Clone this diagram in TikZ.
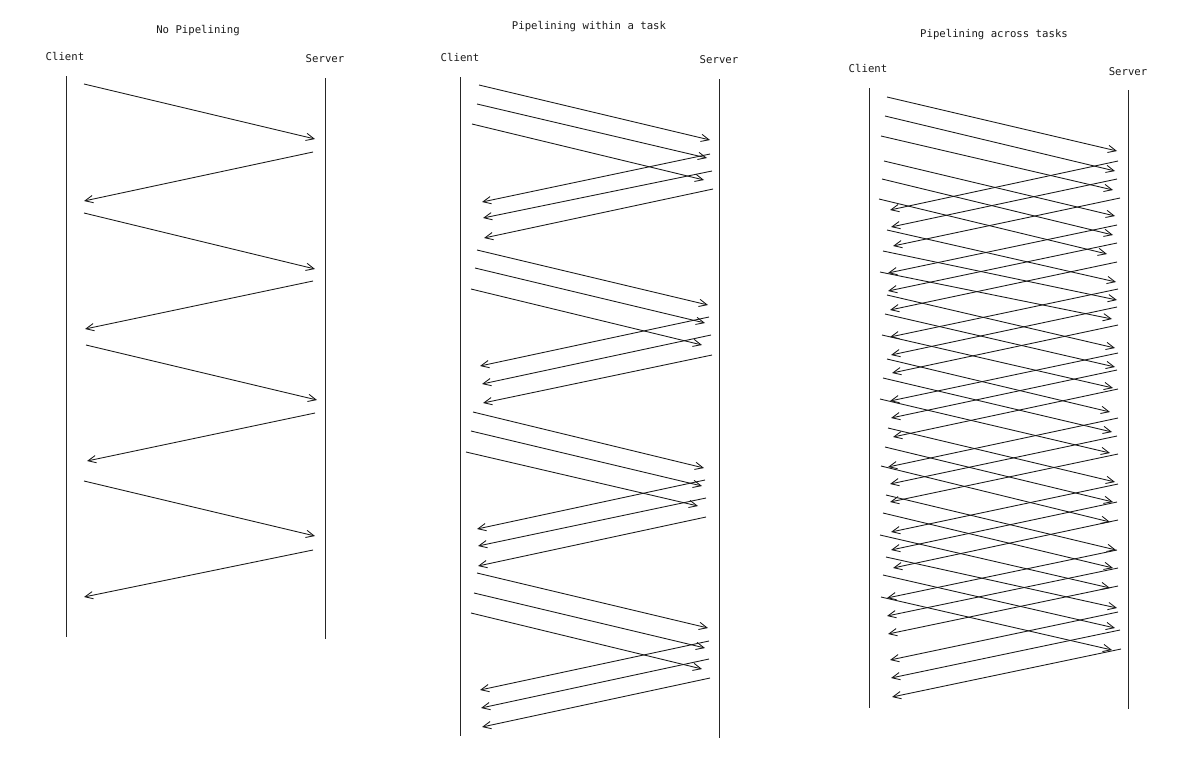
\documentclass[tikz,border=0pt]{standalone}
\usepackage{fontspec}
\setmonofont{DejaVu Sans Mono}
\usetikzlibrary{arrows.meta}
\tikzset{
  lbl/.style={font=\ttfamily\fontsize{8}{9}\selectfont, inner sep=0pt, text=black!90},
  lifeline/.style={line width=0.65pt, draw=black!85},
  msg/.style={line width=0.65pt, draw=black!90, -{Straight Barb[length=6pt,width=5.5pt]}},
}
\begin{document}
\begin{tikzpicture}[x=0.75pt,y=-0.75pt]
\useasboundingbox (0,0) rectangle (1191,758);
% ---------- Panel 1 ----------
\node[lbl] (t1) at (198,31) {No Pipelining};
\node[lbl] (c1) at (65,56) {Client};
\node[lbl] (s1) at (325,59) {Server};
\coordinate (c1a) at (66,76); \coordinate (c1b) at (66,637);
\coordinate (s1a) at (325,78); \coordinate (s1b) at (325,639);
\draw[lifeline] (c1a) -- (c1b);
\draw[lifeline] (s1a) -- (s1b);
\foreach \a/\b/\c/\d [count=\i] in {
 84/84/315/139, 313/152/84/201, 84/213/315/269, 313/281/85/329,
 86/345/317/400, 315/413/87/461, 84/481/315/536, 313/550/84/597}{
  \coordinate (pa\i s) at (\a,\b); \coordinate (pa\i e) at (\c,\d);
  \draw[msg] (pa\i s) -- (pa\i e);
}
% ---------- Panel 2 ----------
\node[lbl] (t2) at (589,27) {Pipelining within a task};
\node[lbl] (c2) at (460,57) {Client};
\node[lbl] (s2) at (719,60) {Server};
\coordinate (c2a) at (460,77); \coordinate (c2b) at (460,736);
\coordinate (s2a) at (719,79); \coordinate (s2b) at (719,738);
\draw[lifeline] (c2a) -- (c2b);
\draw[lifeline] (s2a) -- (s2b);
\foreach \a/\b/\c/\d [count=\i] in {
 479/85/710/140, 477/104/707/158, 472/124/704/180,
 710/154/482/202, 712/171/483/218, 713/189/484/238,
 477/250/708/305, 475/268/705/323, 471/289/702/345,
 709/317/480/366, 711/335/482/384, 712/355/483/403,
 473/412/704/468, 471/431/702/486, 466/452/698/506,
 705/480/477/529, 706/498/478/546, 706/517/478/566,
 477/573/708/628, 474/593/705/648, 471/613/702/669,
 709/641/480/690, 709/659/481/708, 710/678/482/727}{
  \coordinate (pb\i s) at (\a,\b); \coordinate (pb\i e) at (\c,\d);
  \draw[msg] (pb\i s) -- (pb\i e);
}
% ---------- Panel 3 ----------
\node[lbl] (t3) at (994,35) {Pipelining across tasks};
\node[lbl] (c3) at (868,68) {Client};
\node[lbl] (s3) at (1128,72) {Server};
\coordinate (c3a) at (869,88); \coordinate (c3b) at (869,708);
\coordinate (s3a) at (1128,90); \coordinate (s3b) at (1128,709);
\draw[lifeline] (c3a) -- (c3b);
\draw[lifeline] (s3a) -- (s3b);
% requests
\foreach \a/\b/\c/\d [count=\i] in {
 887/97/1117/151, 885/116/1115/171, 881/136/1113/190,
 884/161/1115/216, 882/179/1113/235, 879/199/1107/254,
 887/230/1116/282, 883/251/1117/300, 880/272/1112/319,
 887/295/1115/348, 885/314/1115/367, 882/335/1113/388,
 887/359/1110/412, 883/378/1112/432, 880/399/1110/453,
 888/428/1115/482, 885/447/1113/502, 881/466/1110/522,
 886/495/1116/550, 883/513/1113/568, 880/535/1110/588,
 886/557/1117/608, 883/575/1115/628, 881/597/1112/650}{
  \coordinate (pc\i s) at (\a,\b); \coordinate (pc\i e) at (\c,\d);
  \draw[msg] (pc\i s) -- (pc\i e);
}
% responses
\foreach \a/\b/\c/\d [count=\i] in {
 1118/161/890/210, 1117/179/891/227, 1120/198/893/246,
 1117/225/888/273, 1117/243/888/291, 1117/262/890/310,
 1118/289/890/337, 1117/307/891/355, 1118/325/892/373,
 1118/353/890/401, 1117/370/891/418, 1118/389/893/437,
 1118/418/888/467, 1117/436/890/484, 1118/454/890/502,
 1118/484/891/532, 1117/502/891/550, 1118/520/893/568,
 1117/550/887/598, 1118/568/887/616, 1118/586/888/634,
 1118/612/890/660, 1120/630/891/678, 1121/649/892/697}{
  \coordinate (pr\i s) at (\a,\b); \coordinate (pr\i e) at (\c,\d);
  \draw[msg] (pr\i s) -- (pr\i e);
}
\end{tikzpicture}
\end{document}
